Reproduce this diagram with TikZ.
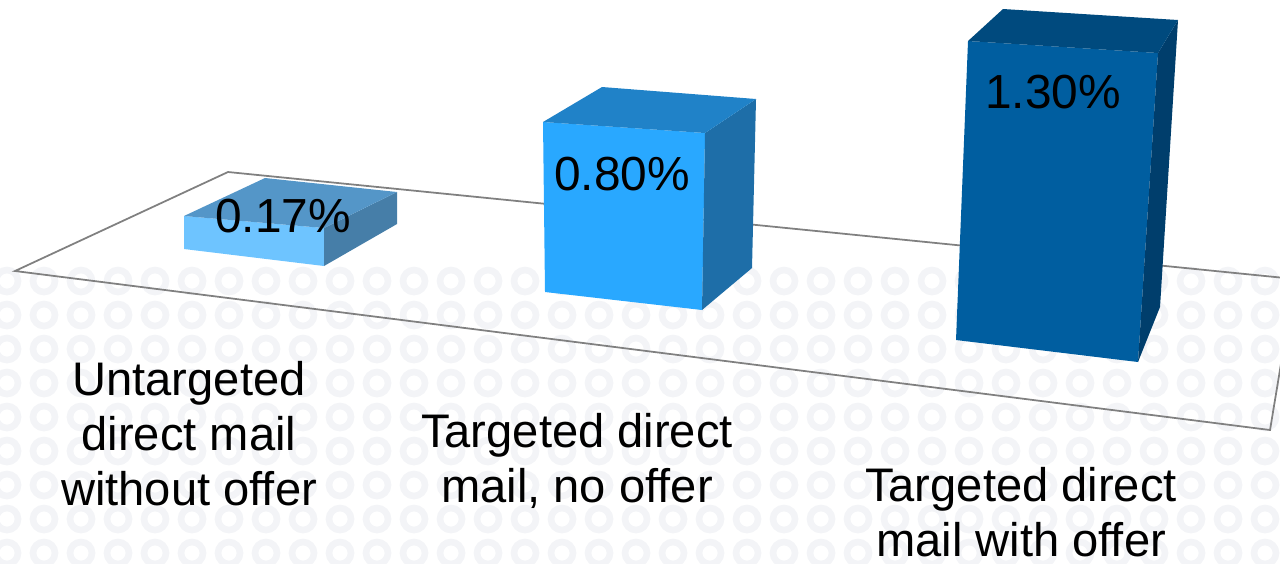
\documentclass[tikz,border=0pt]{standalone}
\usepackage{fontspec}
\setmainfont{Liberation Sans}
\usetikzlibrary{positioning}

\definecolor{ringgray}{RGB}{243,244,247}
\definecolor{floorgray}{RGB}{128,128,128}
\definecolor{lowfront}{RGB}{110,196,255}
\definecolor{lowtop}{RGB}{84,150,200}
\definecolor{lowside}{RGB}{70,126,168}
\definecolor{midfront}{RGB}{41,168,255}
\definecolor{midtop}{RGB}{32,130,200}
\definecolor{midside}{RGB}{30,110,168}
\definecolor{highfront}{RGB}{0,94,160}
\definecolor{hightop}{RGB}{0,74,126}
\definecolor{highside}{RGB}{0,62,108}

\tikzset{
    ring/.style={draw=ringgray, line width=1.9pt},
    floorline/.style={draw=floorgray, line width=0.5pt, line join=miter},
    valuelabel/.style={font=\fontsize{13.6}{15.6}\selectfont, inner sep=0pt, anchor=base},
    catlabel/.style={font=\fontsize{13.4}{15.6}\selectfont, align=center, inner sep=0pt, anchor=base},
}

\begin{document}
\begin{tikzpicture}[x=0.01cm, y=-0.01cm]
    \useasboundingbox (0,0) rectangle (1280,563);
    \clip (0,0) rectangle (1280,563);

    % background rings
    \foreach \row in {0,...,8}{
        \foreach \col in {0,...,34}{
            \draw[ring] (7+37*\col, 281+34*\row) circle (11);
        }
    }

    % floor
    \coordinate (backleft)   at (228,172);
    \coordinate (frontleft)  at (15,271);
    \coordinate (frontright) at (1270,430);
    \coordinate (backright)  at (1295,279);
    \draw[floorline] (backleft) -- (frontleft) -- (frontright) -- (backright) -- cycle;

    % bar: untargeted
    \fill[lowfront] (184,216) -- (324,228) -- (324,266) -- (184,249) -- cycle;
    \fill[lowside]  (324,228) -- (397,192) -- (397,224) -- (324,266) -- cycle;
    \fill[lowtop]   (184,216) -- (265,178) -- (397,192) -- (324,228) -- cycle;

    % bar: targeted, no offer
    \fill[midfront] (543,122) -- (705,133) -- (702,310) -- (545,292) -- cycle;
    \fill[midside]  (705,133) -- (756,99) -- (752,268) -- (702,310) -- cycle;
    \fill[midtop]   (543,122) -- (602,87) -- (756,99) -- (705,133) -- cycle;

    % bar: targeted with offer
    \fill[highfront] (968,41) -- (1158,53) -- (1138,362) -- (956,340) -- cycle;
    \fill[highside]  (1158,53) -- (1178,20) -- (1160,307) -- (1138,362) -- cycle;
    \fill[hightop]   (968,41) -- (1003,9) -- (1178,20) -- (1158,53) -- cycle;

    \node[valuelabel] (untargetedval) at (283,232) {0.17\%};
    \node[valuelabel] (noofferval)    at (622,190) {0.80\%};
    \node[valuelabel] (offerval)      at (1053,108) {1.30\%};

    % multi-line labels sit on their last baseline
    \node[catlabel] (untargeted) at (189,505) {Untargeted\\direct mail\\without offer};
    \node[catlabel] (nooffer)    at (577,502) {Targeted direct\\mail, no offer};
    \node[catlabel] (withoffer)  at (1021,556) {Targeted direct\\mail with offer};
\end{tikzpicture}
\end{document}
